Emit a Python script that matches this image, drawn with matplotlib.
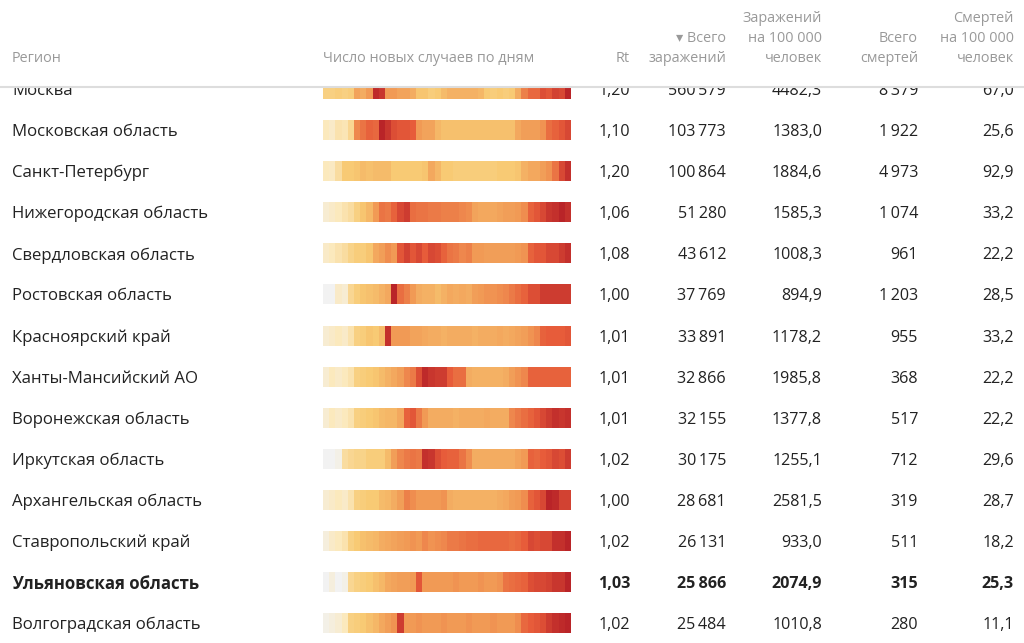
import numpy as np
import matplotlib
matplotlib.use("Agg")
import matplotlib.pyplot as plt
from matplotlib.colors import LinearSegmentedColormap
from matplotlib.patches import Rectangle

plt.rcParams['font.family'] = ['Open Sans', 'DejaVu Sans']

#-- Table data
regions = ["Москва", "Московская область", "Санкт-Петербург", "Нижегородская область",
           "Свердловская область", "Ростовская область", "Красноярский край",
           "Ханты-Мансийский АО", "Воронежская область", "Иркутская область",
           "Архангельская область", "Ставропольский край", "Ульяновская область",
           "Волгоградская область"]
rt = [1.20, 1.10, 1.20, 1.06, 1.08, 1.00, 1.01, 1.01, 1.01, 1.02, 1.00, 1.02, 1.03, 1.02]
total_cases = [560579, 103773, 100864, 51280, 43612, 37769, 33891, 32866, 32155, 30175,
               28681, 26131, 25866, 25484]
cases_100k = [4482.3, 1383.0, 1884.6, 1585.3, 1008.3, 894.9, 1178.2, 1985.8, 1377.8,
              1255.1, 2581.5, 933.0, 2074.9, 1010.8]
total_deaths = [8379, 1922, 4973, 1074, 961, 1203, 955, 368, 517, 712, 319, 511, 315, 280]
deaths_100k = [67.0, 25.6, 92.9, 33.2, 22.2, 28.5, 33.2, 22.2, 22.2, 29.6, 28.7, 18.2, 25.3, 11.1]
bold_region = "Ульяновская область"

#-- Daily new cases strips (relative level 0..5, 40 periods each)
strips = [
    [1.8, 1.8, 1.9, 1.8, 1.9, 2.8, 2.6, 3.0, 4.8, 4.6, 3.0, 3.0, 2.8, 2.8, 2.6, 2.1, 2.1, 1.9, 2.0, 2.3,
     2.5, 2.5, 2.5, 2.5, 2.5, 2.4, 2.0, 1.9, 2.0, 1.9, 2.0, 2.6, 3.4, 3.8, 3.8, 4.2, 4.1, 4.4, 4.3, 4.9],
    [1.0, 0.8, 1.2, 1.1, 1.6, 3.3, 3.6, 3.9, 3.8, 4.9, 4.6, 4.2, 4.1, 4.1, 4.0, 3.0, 2.8, 2.8, 2.4, 2.2,
     2.2, 2.2, 2.2, 2.2, 2.2, 2.2, 2.2, 2.2, 2.2, 2.2, 2.2, 2.7, 2.9, 2.9, 2.9, 3.1, 3.7, 3.9, 4.1, 4.3],
    [1.0, 0.9, 1.4, 2.0, 2.0, 2.1, 2.3, 2.2, 2.3, 2.3, 2.3, 2.0, 2.0, 2.0, 2.0, 2.0, 2.1, 2.7, 2.4, 2.0,
     2.0, 1.9, 1.9, 1.9, 1.9, 1.9, 1.9, 1.9, 2.0, 2.0, 2.0, 2.1, 2.5, 2.7, 2.7, 2.9, 3.1, 3.6, 4.3, 4.7],
    [0.6, 0.8, 1.0, 1.2, 1.4, 1.8, 2.1, 2.4, 3.0, 3.6, 3.5, 3.9, 4.3, 4.5, 3.7, 3.6, 3.6, 3.5, 3.5, 3.4,
     3.4, 3.4, 3.3, 3.2, 2.8, 2.7, 2.7, 2.7, 2.8, 2.9, 2.9, 3.0, 3.2, 3.9, 4.1, 4.3, 4.6, 4.7, 4.9, 4.7],
    [0.8, 1.0, 1.2, 1.4, 1.7, 1.9, 1.9, 2.1, 2.7, 2.9, 3.2, 3.0, 4.1, 4.4, 4.1, 4.3, 4.0, 4.3, 4.2, 3.9,
     3.6, 3.5, 3.3, 3.4, 3.0, 3.0, 2.9, 2.9, 2.9, 2.9, 2.9, 3.0, 3.1, 3.9, 4.1, 4.1, 4.3, 4.3, 4.5, 4.7],
    [0.0, 0.0, 0.8, 0.6, 1.6, 1.9, 2.1, 2.2, 2.3, 2.5, 2.7, 4.9, 3.7, 3.4, 3.0, 2.6, 2.5, 2.5, 2.3, 2.5,
     2.7, 2.6, 2.7, 2.6, 2.9, 3.0, 3.1, 3.1, 3.2, 3.3, 3.5, 3.7, 3.9, 4.2, 4.2, 4.5, 4.5, 4.5, 4.5, 4.5],
    [0.6, 0.8, 1.0, 0.8, 1.2, 1.8, 1.9, 2.1, 2.0, 2.3, 4.7, 3.0, 3.0, 3.0, 2.8, 2.8, 2.7, 2.6, 2.6, 2.5,
     2.6, 2.6, 2.6, 2.6, 2.5, 2.6, 2.6, 2.6, 2.7, 2.6, 2.7, 2.8, 2.9, 3.1, 3.3, 3.9, 4.0, 4.0, 4.0, 4.1],
    [0.6, 1.0, 0.8, 1.0, 1.2, 1.8, 1.9, 2.0, 2.1, 2.3, 2.5, 2.7, 2.9, 3.3, 3.5, 4.2, 4.8, 4.6, 4.5, 4.5,
     4.0, 3.7, 3.7, 2.6, 2.5, 2.5, 2.5, 2.5, 2.5, 2.6, 2.9, 3.1, 3.3, 3.9, 3.9, 3.9, 3.9, 3.9, 3.9, 3.9],
    [0.6, 1.0, 0.8, 1.0, 1.2, 1.8, 1.9, 2.0, 2.1, 2.3, 2.4, 2.4, 2.7, 3.9, 4.1, 3.5, 3.0, 2.6, 2.6, 2.6,
     2.6, 2.5, 2.6, 2.6, 2.6, 2.6, 2.7, 2.6, 2.6, 2.6, 3.3, 3.5, 3.7, 3.9, 4.1, 4.3, 4.5, 4.7, 4.6, 4.7],
    [0.0, 0.0, 0.2, 1.4, 1.6, 1.7, 1.7, 1.9, 1.9, 1.9, 2.3, 2.9, 3.3, 3.5, 3.6, 3.5, 4.7, 4.6, 4.2, 4.0,
     3.9, 3.9, 3.6, 3.2, 2.6, 2.6, 2.6, 2.6, 2.6, 2.6, 2.6, 2.8, 3.0, 3.9, 3.8, 4.0, 4.1, 4.3, 4.2, 4.5],
    [0.6, 0.8, 1.0, 0.8, 1.2, 1.8, 1.9, 2.0, 2.0, 2.3, 2.4, 2.6, 2.9, 3.4, 3.2, 3.0, 3.0, 3.0, 3.0, 3.1,
     2.6, 2.5, 2.5, 2.5, 2.5, 2.5, 2.5, 2.5, 2.6, 2.7, 2.9, 3.0, 3.2, 3.9, 4.1, 4.3, 4.9, 4.8, 4.4, 4.4],
    [0.4, 0.8, 1.0, 1.2, 1.8, 2.0, 2.2, 2.3, 2.4, 2.6, 2.7, 2.8, 2.9, 3.0, 3.1, 3.0, 3.3, 3.1, 3.2, 3.3,
     3.5, 3.5, 3.6, 3.7, 3.7, 3.8, 3.8, 3.8, 3.8, 3.8, 3.7, 3.8, 4.0, 4.3, 4.2, 4.3, 4.3, 4.7, 4.7, 4.9],
    [0.0, 0.4, 0.0, 0.2, 1.6, 1.8, 1.9, 2.0, 2.2, 2.4, 2.7, 2.8, 2.9, 2.9, 3.0, 4.1, 3.0, 3.0, 3.0, 3.0,
     3.0, 3.1, 3.0, 3.0, 3.0, 3.1, 3.0, 3.0, 3.1, 3.6, 3.7, 3.8, 3.9, 4.2, 4.3, 4.3, 4.4, 4.6, 4.6, 4.9],
    [0.2, 0.4, 0.6, 1.0, 1.8, 1.9, 2.0, 2.2, 2.4, 2.7, 2.9, 3.1, 4.5, 3.0, 3.0, 3.1, 3.0, 3.0, 3.0, 3.1,
     3.0, 3.0, 3.0, 3.1, 3.0, 3.0, 3.0, 3.1, 3.0, 3.0, 3.0, 3.2, 3.8, 4.0, 4.1, 4.2, 4.5, 4.7, 4.8, 4.9],
]

cmap = LinearSegmentedColormap.from_list(
    "cases", [(0.0, "#f2f2f2"), (0.2, "#fbe9bd"), (0.4, "#f8ca74"),
              (0.6, "#f19a55"), (0.8, "#e75c3a"), (1.0, "#b51f27")])

def fmt_int(v):
    return f"{v:,}".replace(",", "\u2009")

def fmt_dec(v, nd):
    return f"{v:.{nd}f}".replace(".", ",")

W, H = 1024, 643
fig = plt.figure(figsize=(W / 100, H / 100), dpi=100)
ax = fig.add_axes([0, 0, 1, 1])
ax.set_xlim(0, W)
ax.set_ylim(H, 0)
ax.axis("off")

TXT, HDR = "#222222", "#999999"
FS, NFS, HFS = 12.1, 11.6, 10.4
row_y0, row_step = 89, 41.1
x_region, x_strip0, x_strip1 = 12, 323, 571
col_right = [630, 726, 822, 918, 1014]

for i, reg in enumerate(regions):
    y = row_y0 + i * row_step
    w = "bold" if reg == bold_region else "normal"
    ax.text(x_region, y, reg, ha="left", va="center_baseline", fontsize=FS, color=TXT, weight=w)
    ax.imshow(np.array([strips[i]]), cmap=cmap, vmin=0, vmax=5, aspect="auto",
              interpolation="nearest", extent=[x_strip0, x_strip1, y + 10, y - 10], zorder=2)
    vals = [fmt_dec(rt[i], 2), fmt_int(total_cases[i]), fmt_dec(cases_100k[i], 1),
            fmt_int(total_deaths[i]), fmt_dec(deaths_100k[i], 1)]
    for xr, s in zip(col_right, vals):
        ax.text(xr, y, s, ha="right", va="center_baseline", fontsize=NFS, color=TXT, weight=w)

#-- Sticky header covering the scrolled first row
ax.add_patch(Rectangle((0, 0), W, 86, facecolor="white", edgecolor="none", zorder=5))
ax.plot([0, W], [86.5, 86.5], color="#dddddd", lw=1.5, zorder=6)

hdr_lines = [56, 36.5, 17]
headers = [
    (x_region, "left", ["Регион"]),
    (x_strip0, "left", ["Число новых случаев по дням"]),
    (col_right[0], "right", ["Rt"]),
    (col_right[1], "right", ["заражений", "▾ Всего"]),
    (col_right[2], "right", ["человек", "на 100 000", "Заражений"]),
    (col_right[3], "right", ["смертей", "Всего"]),
    (col_right[4], "right", ["человек", "на 100 000", "Смертей"]),
]
for x, ha, lines in headers:
    for yy, s in zip(hdr_lines, lines):
        ax.text(x, yy, s, ha=ha, va="center_baseline", fontsize=HFS, color=HDR, zorder=7)

fig.savefig("out.png", dpi=100)
